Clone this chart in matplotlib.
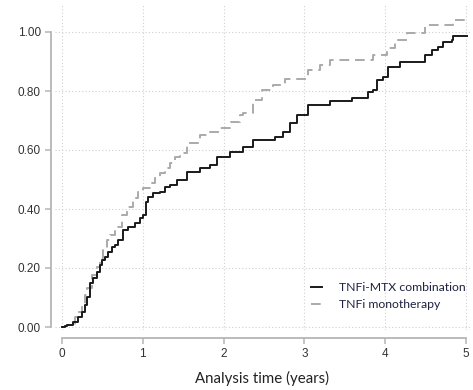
import matplotlib
matplotlib.use("Agg")
import matplotlib.pyplot as plt

# Cumulative incidence (step points)
combo_t = [0.00, 0.04, 0.06, 0.14, 0.20, 0.25, 0.28, 0.31, 0.35, 0.38, 0.43, 0.47, 0.50, 0.53,
           0.57, 0.62, 0.66, 0.69, 0.75, 0.82, 0.90, 0.97, 1.00, 1.04, 1.06, 1.13, 1.21, 1.27,
           1.34, 1.42, 1.55, 1.71, 1.83, 1.92, 2.08, 2.24, 2.36, 2.64, 2.74, 2.82, 2.91, 3.04,
           3.32, 3.59, 3.79, 3.85, 3.90, 3.97, 4.03, 4.18, 4.49, 4.58, 4.65, 4.72, 4.83, 4.84,
           5.01]
combo_y = [0.000, 0.003, 0.007, 0.017, 0.034, 0.051, 0.075, 0.102, 0.149, 0.166, 0.186, 0.210,
           0.227, 0.237, 0.254, 0.271, 0.278, 0.295, 0.329, 0.339, 0.353, 0.369, 0.380, 0.424,
           0.441, 0.454, 0.458, 0.475, 0.481, 0.498, 0.525, 0.539, 0.549, 0.576, 0.593, 0.610,
           0.634, 0.644, 0.661, 0.692, 0.719, 0.753, 0.766, 0.776, 0.797, 0.803, 0.837, 0.847,
           0.881, 0.898, 0.922, 0.939, 0.949, 0.966, 0.973, 0.986, 0.986]

mono_t = [0.00, 0.04, 0.06, 0.16, 0.20, 0.25, 0.28, 0.31, 0.37, 0.43, 0.47, 0.51, 0.56, 0.59,
          0.66, 0.69, 0.74, 0.80, 0.88, 0.94, 1.00, 1.09, 1.15, 1.21, 1.27, 1.34, 1.40, 1.46,
          1.55, 1.71, 1.83, 1.96, 2.08, 2.20, 2.24, 2.36, 2.48, 2.61, 2.76, 3.04, 3.19, 3.32,
          3.85, 4.02, 4.12, 4.27, 4.49, 4.84, 4.99]
mono_y = [0.000, 0.004, 0.007, 0.034, 0.051, 0.075, 0.108, 0.132, 0.176, 0.203, 0.234, 0.261,
          0.295, 0.312, 0.329, 0.339, 0.380, 0.407, 0.437, 0.458, 0.471, 0.488, 0.505, 0.522,
          0.539, 0.556, 0.576, 0.590, 0.624, 0.651, 0.661, 0.675, 0.695, 0.719, 0.725, 0.769,
          0.803, 0.820, 0.841, 0.871, 0.888, 0.905, 0.922, 0.946, 0.973, 0.997, 1.024, 1.041,
          1.058]

labels = ["TNFi-MTX combination", "TNFi monotherapy"]
x_ticks = [0, 1, 2, 3, 4, 5]
x_ticklabels = ["0", "1", "2", "3", "4", "5"]
y_ticks = [0.0, 0.2, 0.4, 0.6, 0.8, 1.0]
y_ticklabels = ["0.00", "0.20", "0.40", "0.60", "0.80", "1.00"]
x_label = "Analysis time (years)"

W, H = 473, 390
fig = plt.figure(figsize=(W / 100, H / 100), dpi=100)
fig.patch.set_facecolor("white")

# axes: x 0 -> 62px, 5 -> 466px ; y 0 -> 327px, 1 -> 32px
xlim = (-0.09, 5.05)
ylim = (-0.01, 1.09)
ppx = (466 - 62) / 5.0
ppy = (327 - 32) / 1.0
left_px = 62 + xlim[0] * ppx
right_px = 62 + xlim[1] * ppx
bottom_px = 327 - ylim[0] * ppy
top_px = 327 - ylim[1] * ppy
ax = fig.add_axes([left_px / W, 1 - bottom_px / H, (right_px - left_px) / W, (bottom_px - top_px) / H])
ax.set_xlim(*xlim)
ax.set_ylim(*ylim)

grid_kw = dict(color="#d0d0d0", lw=0.8, ls=(0, (1, 2)), zorder=0)
for xt in x_ticks:
    ax.axvline(xt, **grid_kw)
for yt in y_ticks:
    ax.axhline(yt, **grid_kw)

l1, = ax.step(combo_t, combo_y, where="post", color="#1a1a1a", lw=1.4, label=labels[0], zorder=3)
l2, = ax.step(mono_t, mono_y, where="post", color="#aaaaaa", lw=1.4, ls=(0, (5, 3)),
              label=labels[1], zorder=2)

for s in ["top", "right"]:
    ax.spines[s].set_visible(False)
ax.spines["left"].set_position(("outward", 3))
ax.spines["bottom"].set_position(("outward", 6))
ax.spines["left"].set_bounds(0, 1)
ax.spines["bottom"].set_bounds(0, 5)
for s in ["left", "bottom"]:
    ax.spines[s].set_color("#b5b5b5")
    ax.spines[s].set_linewidth(1.3)

ax.set_xticks(x_ticks)
ax.set_xticklabels(x_ticklabels, fontsize=8.5, color="#333333", family="Liberation Sans")
ax.set_yticks(y_ticks)
ax.set_yticklabels(y_ticklabels, fontsize=8.5, color="#333333", family="Liberation Sans")
ax.tick_params(axis="both", color="#b5b5b5", length=4, width=1.1, pad=3)

ax.set_xlabel(x_label, fontsize=10.8, family="Lato", color="#222222", labelpad=8)

leg = ax.legend(handles=[l1, l2], loc="upper left", bbox_to_anchor=(311 / W, 1 - 282 / H),
                bbox_transform=fig.transFigure, frameon=False, borderpad=0, borderaxespad=0,
                handlelength=0.9, handletextpad=1.4, labelspacing=0.5,
                prop={"family": "Lato", "size": 8.8})
for t in leg.get_texts():
    t.set_color("#1f2240")

fig.savefig("out.png", dpi=100, facecolor="white")
